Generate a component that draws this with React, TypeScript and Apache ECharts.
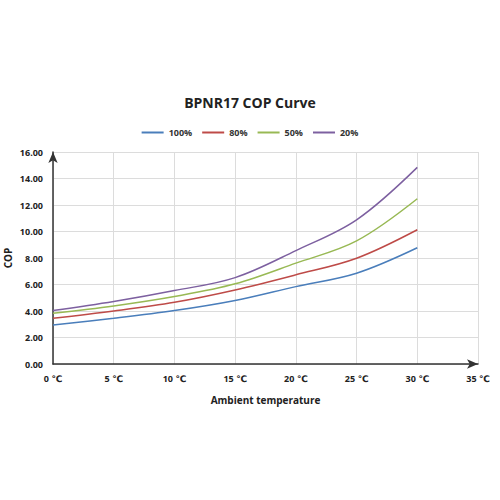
import { useEffect, useRef } from "react";
import * as echarts from "echarts";

const temps = [0, 5, 10, 15, 20, 25, 30];
const load100 = [2.95, 3.45, 4.03, 4.79, 5.84, 6.85, 8.77];
const load80 = [3.45, 4.0, 4.66, 5.59, 6.73, 7.98, 10.13];
const load50 = [3.83, 4.38, 5.09, 6.05, 7.61, 9.29, 12.47];
const load20 = [4.03, 4.71, 5.54, 6.52, 8.56, 10.88, 14.84];

const names = ["100%", "80%", "50%", "20%"];
const colors = ["#4a7ebb", "#be4b48", "#98b954", "#7d60a0"];
const font = "'Open Sans', 'DejaVu Sans', sans-serif";

function App() {
  const ref = useRef<HTMLDivElement>(null);

  useEffect(() => {
    if (!ref.current) return;
    const chart = echarts.init(ref.current, undefined, { renderer: "svg" });
    const all = [load100, load80, load50, load20];

    chart.setOption({
      animation: false,
      backgroundColor: "#fff",
      textStyle: { fontFamily: font },
      title: {
        text: "BPNR17 COP Curve",
        left: "center",
        top: 90,
        textStyle: { fontSize: 14, fontWeight: "bold", color: "#222", fontFamily: font },
      },
      legend: {
        top: 123,
        left: "center",
        icon: "rect",
        itemWidth: 22,
        itemHeight: 2,
        itemGap: 10,
        textStyle: { fontSize: 9, fontWeight: "bold", color: "#333", fontFamily: font },
        data: names,
      },
      grid: { left: 53, right: 22, top: 152, bottom: 136, outerBoundsMode: "none", containLabel: false },
      xAxis: {
        type: "value",
        min: 0,
        max: 35,
        interval: 5,
        name: "Ambient temperature",
        nameLocation: "middle",
        nameGap: 31,
        nameMoveOverlap: false,
        nameTextStyle: { fontSize: 10, fontWeight: "bold", color: "#222" },
        axisLine: {
          lineStyle: { color: "#333", width: 1.5 },
          symbol: ["none", "arrow"],
          symbolSize: [7, 11],
        },
        axisTick: { show: false },
        axisLabel: {
          formatter: (v: number) => `${v} ℃`,
          fontSize: 9,
          fontWeight: "bold",
          color: "#222",
          margin: 10,
        },
        splitLine: { show: true, lineStyle: { color: "#dcdcdc" } },
      },
      yAxis: {
        type: "value",
        min: 0,
        max: 16,
        interval: 2,
        name: "COP",
        nameLocation: "middle",
        nameGap: 40,
        nameMoveOverlap: false,
        nameTextStyle: { fontSize: 10, fontWeight: "bold", color: "#222" },
        axisLine: {
          show: true,
          lineStyle: { color: "#333", width: 1.5 },
          symbol: ["none", "arrow"],
          symbolSize: [7, 11],
        },
        axisTick: { show: false },
        axisLabel: {
          formatter: (v: number) => v.toFixed(2),
          fontSize: 9,
          fontWeight: "bold",
          color: "#222",
          margin: 10,
        },
        splitLine: { show: true, lineStyle: { color: "#dcdcdc" } },
      },
      series: all.map((vals, i) => ({
        name: names[i],
        type: "line",
        smooth: 0.35,
        showSymbol: false,
        symbol: "none",
        color: colors[i],
        lineStyle: { width: 1.5, color: colors[i] },
        data: temps.map((t, j) => [t, vals[j]]),
      })),
    });

    return () => chart.dispose();
  }, []);

  return (
    <div
      ref={ref}
      style={{ position: "fixed", left: 0, top: 0, width: 500, height: 500 }}
    />
  );
}

export default App;
